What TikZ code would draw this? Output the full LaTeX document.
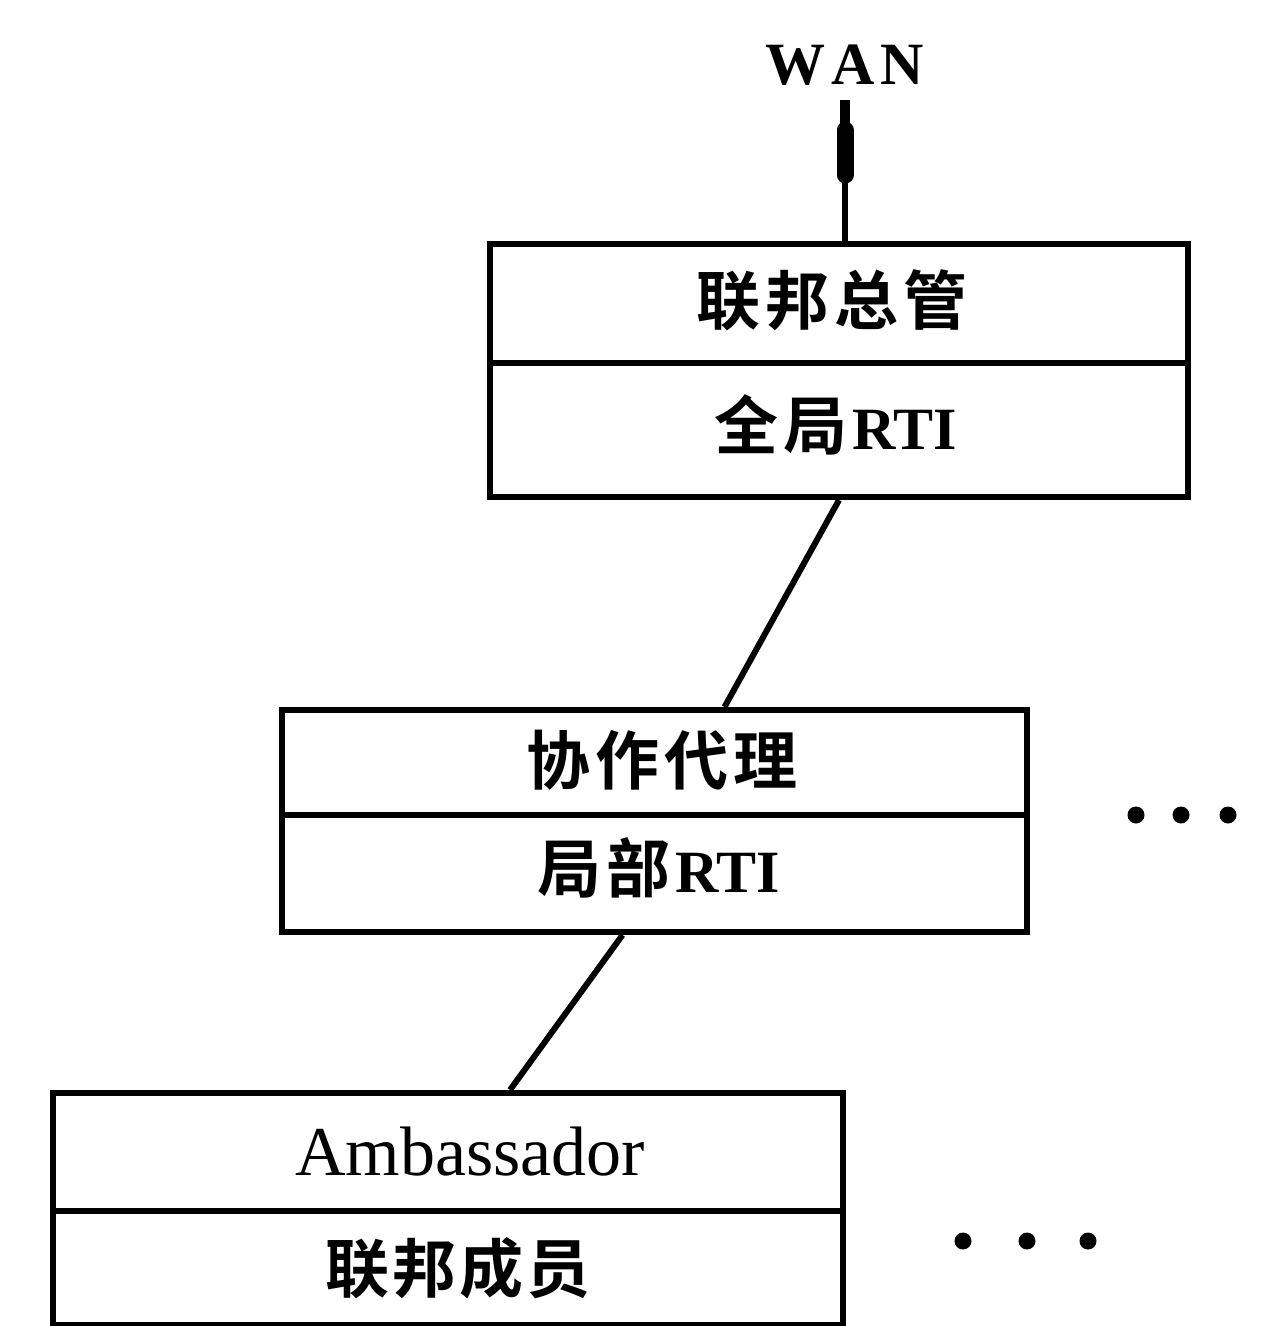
\documentclass[tikz,border=0pt]{standalone}
\usepackage{fontspec}
\setmainfont{Liberation Serif}
\newfontfamily\cjk{Noto Sans CJK SC}[BoldFont={Noto Sans CJK SC Bold}]
\usetikzlibrary{calc}
\newcommand{\gp}{\hspace{5pt}}
\newcommand{\rti}{\fontspec{Liberation Serif}\bfseries\fontsize{60}{70}\selectfont RTI}
\tikzset{
  part/.style={draw=black, line width=6pt, inner sep=0pt, minimum width=#1, anchor=north},
  conn/.style={line width=6pt},
  dotmark/.style={fill=black, circle, inner sep=0pt, minimum size=17pt},
  zh/.style={font=\cjk\bfseries\fontsize{64}{74}\selectfont},
  lat/.style={font=\fontsize{70}{80}\selectfont},
}
\begin{document}
\begin{tikzpicture}[x=1pt,y=-1pt]
\useasboundingbox (0,0) rectangle (1269,1326);
% top box
\node[part=698pt, minimum height=119pt] (gtop) at (839,241) {};
\node[part=698pt, minimum height=134pt] (gbot) at (839,360) {};
\node[zh] (t1) at (832,300) {联\gp 邦\gp 总\gp 管};
\node[zh] (t2) at (836,425) {全\gp 局\gp\rti};
% middle box
\node[part=745pt, minimum height=105pt] (mtop) at (654.5,707) {};
\node[part=745pt, minimum height=117pt] (mbot) at (654.5,812) {};
\node[zh] (t3) at (662,760) {协\gp 作\gp 代\gp 理};
\node[zh] (t4) at (659,868) {局\gp 部\gp\rti};
% bottom box
\node[part=790pt, minimum height=118pt] (btop) at (448,1090) {};
\node[part=790pt, minimum height=114pt] (bbot) at (448,1208) {};
\node[lat] (t5) at (470,1152) {Ambassador};
\node[zh] (t6) at (458,1268) {联\hspace{3pt}邦\hspace{3pt}成\hspace{3pt}员};
% WAN
\node[font=\bfseries\fontsize{60}{70}\selectfont] (wan) at (845,65) {W\kern6pt A\kern6pt N};
\coordinate (wanend) at (845,100);
\draw[conn] (wanend) -- ([xshift=6pt]gtop.north);
\draw[line width=10pt] (845,100) -- (845,135);
\draw[line width=17pt, line cap=round] (845,130) -- (845,175);
% connectors
\draw[conn] (gbot.south) -- ([xshift=70pt]mtop.north);
\draw[conn] ([xshift=-32pt]mbot.south) -- ([xshift=62pt]btop.north);
% dots
\node[dotmark] (d1) at (1136,815) {};
\node[dotmark] (d2) at (1181,815) {};
\node[dotmark] (d3) at (1228,815) {};
\node[dotmark] (e1) at (963,1241) {};
\node[dotmark] (e2) at (1027,1241) {};
\node[dotmark] (e3) at (1088,1241) {};
\end{tikzpicture}
\end{document}
